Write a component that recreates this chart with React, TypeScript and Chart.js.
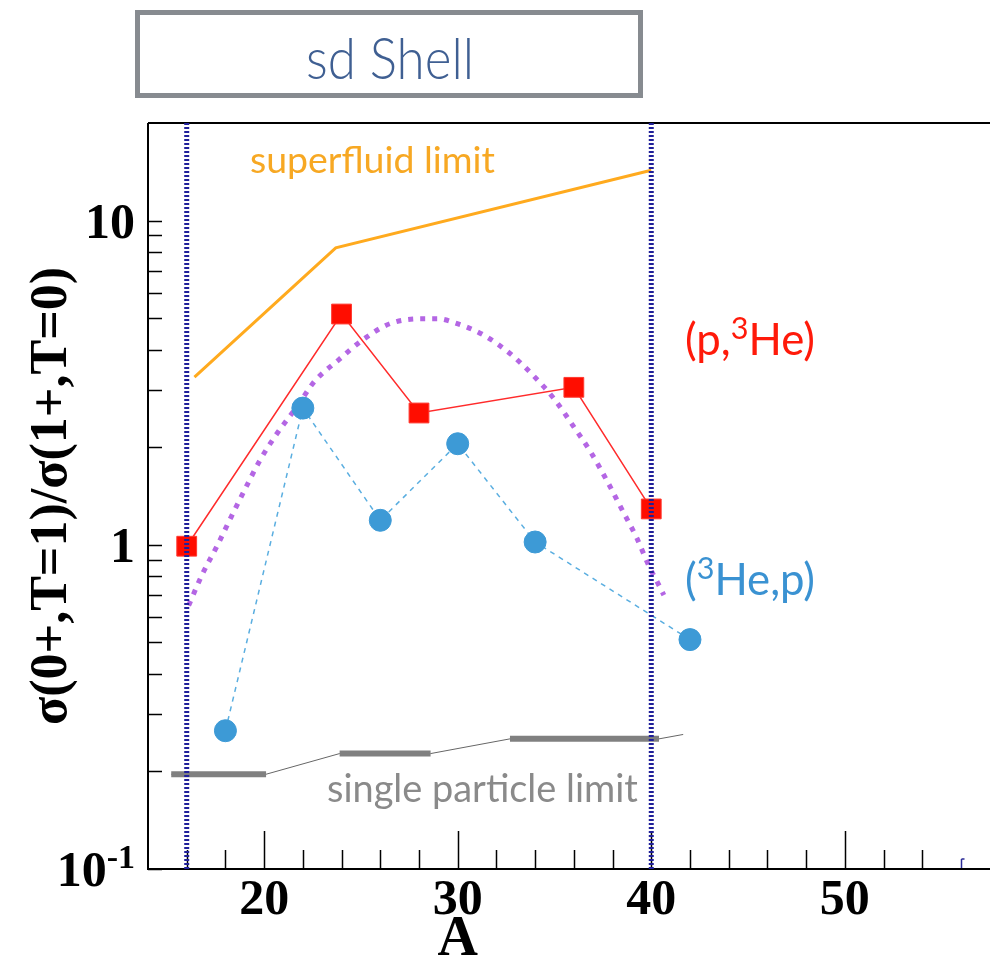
import React, { useEffect, useRef } from 'react';
import { Chart, registerables } from 'chart.js';

Chart.register(...registerables);

// ---------- data ----------
const pHe3A = [16, 24, 28, 36, 40];
const pHe3Ratio = [0.99, 5.15, 2.55, 3.06, 1.29];

const he3pA = [18, 22, 26, 30, 34, 42];
const he3pRatio = [0.267, 2.64, 1.19, 2.05, 1.02, 0.51];

const superfluidA = [16.4, 23.7, 40];
const superfluidRatio = [3.29, 8.24, 14.3];

const theoryA = [16.1, 16.8, 17.6, 18.3, 19.05, 19.8, 20.7, 21.7, 22.6, 23.85, 25.1, 26.5, 28.2, 29.0, 29.8, 31.3, 32.7, 33.9, 35.0, 36.0, 36.9, 37.75, 38.5, 39.25, 39.9, 40.3, 40.65];
const theoryRatio = [0.65, 0.81, 1.0, 1.22, 1.5, 1.83, 2.22, 2.67, 3.19, 3.72, 4.29, 4.81, 4.98, 4.98, 4.85, 4.45, 3.89, 3.33, 2.81, 2.31, 1.92, 1.56, 1.28, 1.05, 0.855, 0.77, 0.7];

const spBarStartA = [15.2, 23.9, 32.7];
const spBarEndA = [20.1, 28.6, 40.4];
const spBarRatio = [0.196, 0.227, 0.252];
const spTailA = 41.65;
const spTailRatio = 0.26;

const shellEdgesA = [16, 40];

const xTickLabels = [20, 30, 40, 50];
const xMinorTicks = [16, 18, 20, 22, 24, 26, 28, 30, 32, 34, 36, 38, 40, 42, 44, 46, 48, 50, 52, 54, 56];
const yMajorTicks = [0.1, 1, 10];
const yMinorTicks = [0.2, 0.3, 0.4, 0.5, 0.6, 0.7, 0.8, 0.9, 2, 3, 4, 5, 6, 7, 8, 9];

const X_MIN = 14;
const X_MAX = 57.5;
const Y_MIN = 0.1;
const Y_MAX = 20;

const SERIF = '"Liberation Serif", "Times New Roman", serif';
const SANS = 'Lato, "Noto Sans", "Open Sans", sans-serif';

const xyOf = (xs: number[], ys: number[]) => xs.map((x, i) => ({ x, y: ys[i] }));

function fitSize(ctx: CanvasRenderingContext2D, parts: { t: string; sup?: boolean }[], weight: string, family: string, target: number) {
  let w = 0;
  for (const p of parts) {
    ctx.font = `${weight} ${p.sup ? 70 : 100}px ${family}`;
    w += ctx.measureText(p.t).width;
  }
  return (100 * target) / w;
}

function drawRich(ctx: CanvasRenderingContext2D, parts: { t: string; sup?: boolean }[], left: number, baseline: number, width: number, color: string, weight = '400', family = SANS) {
  const s = fitSize(ctx, parts, weight, family, width);
  let x = left;
  ctx.fillStyle = color;
  ctx.textBaseline = 'alphabetic';
  ctx.textAlign = 'left';
  for (const p of parts) {
    const size = p.sup ? s * 0.7 : s;
    ctx.font = `${weight} ${size}px ${family}`;
    ctx.fillText(p.t, x, p.sup ? baseline - s * 0.36 : baseline);
    x += ctx.measureText(p.t).width;
  }
}

const decorPlugin = {
  id: 'decor',
  beforeDatasetsDraw(chart: any) {
    const { ctx, chartArea: a, scales } = chart;
    const x = scales.x;
    const y = scales.y;
    ctx.save();
    ctx.strokeStyle = '#000';
    ctx.lineWidth = 1.5;
    ctx.beginPath();
    for (const v of xMinorTicks) {
      if (v === 56) continue;
      const px = Math.round(x.getPixelForValue(v)) + 0.5;
      const len = v % 10 === 0 ? 38 : 19;
      ctx.moveTo(px, a.bottom);
      ctx.lineTo(px, a.bottom - len);
    }
    for (const v of [...yMinorTicks, ...yMajorTicks]) {
      const py = Math.round(y.getPixelForValue(v)) + 0.5;
      ctx.moveTo(a.left, py);
      ctx.lineTo(a.left + 14, py);
    }
    ctx.stroke();
    // odd tick at 56
    ctx.strokeStyle = '#2a2a96';
    ctx.beginPath();
    const p56 = Math.round(x.getPixelForValue(56)) + 0.5;
    ctx.moveTo(p56, a.bottom);
    ctx.lineTo(p56, a.bottom - 10);
    ctx.moveTo(p56, a.bottom - 10);
    ctx.lineTo(p56 + 3, a.bottom - 10);
    ctx.stroke();
    // frame
    ctx.strokeStyle = '#000';
    ctx.lineWidth = 2;
    ctx.beginPath();
    ctx.moveTo(a.left, a.top);
    ctx.lineTo(a.left, a.bottom);
    ctx.lineTo(a.right, a.bottom);
    ctx.moveTo(a.left, a.top);
    ctx.lineTo(a.right, a.top);
    ctx.stroke();
    ctx.restore();
  },
  afterDraw(chart: any) {
    const { ctx, scales } = chart;
    const x = scales.x;
    const y = scales.y;
    ctx.save();
    // y tick labels
    ctx.fillStyle = '#000';
    ctx.textAlign = 'right';
    ctx.textBaseline = 'alphabetic';
    const right = 135;
    for (const v of yMajorTicks) {
      const py = y.getPixelForValue(v);
      if (v < 1) {
        ctx.font = `bold 34px ${SERIF}`;
        const supW = ctx.measureText('-1').width;
        ctx.fillText('-1', right, py - 1);
        ctx.font = `bold 50px ${SERIF}`;
        ctx.fillText('10', right - supW, py + 17);
      } else {
        ctx.font = `bold 50px ${SERIF}`;
        ctx.fillText(String(v), right, py + 17);
      }
    }
    // x axis title
    ctx.textAlign = 'center';
    ctx.font = `bold 56px ${SERIF}`;
    ctx.fillText('A', x.getPixelForValue(30), 955);

    // annotations
    drawRich(ctx, [{ t: 'superfluid limit' }], 250, 173, 245, '#f7a823');
    drawRich(ctx, [{ t: 'single particle limit' }], 327, 802, 311, '#8a8a8a');
    drawRich(ctx, [{ t: '(p,' }, { t: '3', sup: true }, { t: 'He)' }], 685, 355, 130, '#ff1a0a');
    drawRich(ctx, [{ t: '(' }, { t: '3', sup: true }, { t: 'He,p)' }], 685, 595, 130, '#3a92d2');

    // sd Shell box
    ctx.strokeStyle = '#878b90';
    ctx.lineWidth = 5;
    ctx.strokeRect(137.5, 12.5, 503, 83);
    const s = fitSize(ctx, [{ t: 'sd Shell' }], '300', SANS, 168);
    ctx.font = `300 ${s}px ${SANS}`;
    ctx.fillStyle = '#3f5f92';
    ctx.textAlign = 'center';
    ctx.translate(390, 79);
    ctx.scale(1, 1.12);
    ctx.fillText('sd Shell', 0, 0);
    ctx.restore();
  },
};

export default function App() {
  const ref = useRef<HTMLCanvasElement | null>(null);
  useEffect(() => {
    if (!ref.current) return;
    const spLine = [];
    for (let i = 0; i < spBarStartA.length; i++) {
      spLine.push({ x: spBarStartA[i], y: spBarRatio[i] });
      spLine.push({ x: spBarEndA[i], y: spBarRatio[i] });
    }
    spLine.push({ x: spTailA, y: spTailRatio });

    const edgeSets = shellEdgesA.map((a) => ({
      data: [{ x: a, y: Y_MIN }, { x: a, y: Y_MAX }],
      borderColor: '#20209a',
      borderWidth: 5,
      borderDash: [2, 2],
      borderCapStyle: 'butt',
      pointRadius: 0,
      fill: false,
    }));

    const barSets = spBarStartA.map((s, i) => ({
      data: [{ x: s, y: spBarRatio[i] }, { x: spBarEndA[i], y: spBarRatio[i] }],
      borderColor: '#808080',
      borderWidth: 6,
      borderCapStyle: 'butt',
      pointRadius: 0,
      fill: false,
    }));

    const chart = new Chart(ref.current, {
      type: 'line',
      data: {
        datasets: [
          ...edgeSets,
          {
            data: xyOf(pHe3A, pHe3Ratio),
            borderColor: '#ff2b2b',
            borderWidth: 1.5,
            pointStyle: 'rect',
            pointRadius: 14,
            pointBackgroundColor: '#ff0d00',
            pointBorderColor: '#ff3a30',
            pointBorderWidth: 1,
            fill: false,
          },
          {
            data: xyOf(he3pA, he3pRatio),
            borderColor: '#5aaee0',
            borderWidth: 1.5,
            borderDash: [5, 5],
            pointStyle: 'circle',
            pointRadius: 11,
            pointBackgroundColor: '#3d9ad6',
            pointBorderColor: '#3d9ad6',
            pointBorderWidth: 1,
            fill: false,
          },
          {
            data: xyOf(theoryA, theoryRatio),
            borderColor: '#b466e4',
            borderWidth: 5,
            borderDash: [5, 7],
            borderCapStyle: 'butt',
            cubicInterpolationMode: 'monotone',
            pointRadius: 0,
            fill: false,
          },
          {
            data: xyOf(superfluidA, superfluidRatio),
            borderColor: '#ffaa1e',
            borderWidth: 3,
            pointRadius: 0,
            fill: false,
          },
          ...barSets,
          {
            data: spLine,
            borderColor: '#666666',
            borderWidth: 1,
            pointRadius: 0,
            fill: false,
          },
        ] as any,
      },
      options: {
        animation: false,
        responsive: false,
        devicePixelRatio: 1,
        layout: { autoPadding: false, padding: { top: 123, left: 0, right: 0, bottom: 0 } },
        plugins: { legend: { display: false }, tooltip: { enabled: false } },
        elements: { line: { tension: 0 } },
        scales: {
          x: {
            type: 'linear',
            min: X_MIN,
            max: X_MAX,
            grid: { display: false, drawTicks: false },
            border: { display: false },
            afterBuildTicks: (scale: any) => {
              scale.ticks = xTickLabels.map((v) => ({ value: v }));
            },
            afterFit: (scale: any) => {
              scale.height = 90;
              scale.paddingLeft = 0;
              scale.paddingRight = 0;
            },
            ticks: {
              autoSkip: false,
              maxRotation: 0,
              padding: 2,
              color: '#000',
              font: { family: SERIF, size: 50, weight: 'bold' },
              callback: (v: any) => String(v),
            },
          },
          y: {
            type: 'logarithmic',
            min: Y_MIN,
            max: Y_MAX,
            grid: { display: false, drawTicks: false },
            border: { display: false },
            ticks: { display: false },
            afterFit: (scale: any) => {
              scale.width = 148;
              scale.paddingTop = 0;
              scale.paddingBottom = 0;
            },
            title: {
              display: true,
              text: 'σ(0+,T=1)/σ(1+,T=0)',
              color: '#000',
              font: { family: SERIF, size: 52, weight: 'bold', lineHeight: 1.2 },
              padding: { top: 21, bottom: 0 },
            },
          },
        },
      } as any,
      plugins: [decorPlugin],
    });
    return () => chart.destroy();
  }, []);

  return (
    <div style={{ position: 'absolute', left: 0, top: 0, width: 990, height: 959, background: '#fff' }}>
      <canvas ref={ref} width={990} height={959} style={{ display: 'block' }} />
    </div>
  );
}
